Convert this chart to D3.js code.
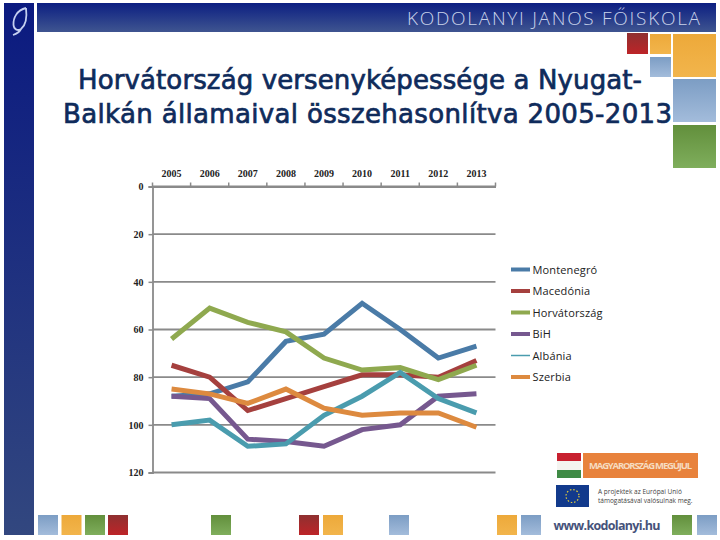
<!DOCTYPE html>
<html>
<head>
<meta charset="utf-8">
<script src="https://cdn.jsdelivr.net/npm/d3@7"></script>
<style>
  html, body { margin: 0; padding: 0; background: #fff; }
  svg { display: block; }
</style>
</head>
<body>
<div id="chart"></div>
<script>
const years = ["2005", "2006", "2007", "2008", "2009", "2010", "2011", "2012", "2013"];
const yTicks = [0, 20, 40, 60, 80, 100, 120];
const seriesNames = ["Montenegró", "Macedónia", "Horvátország", "BiH", "Albánia", "Szerbia"];
const seriesColors = ["#4a7ba7", "#a5403e", "#8fa94f", "#76588f", "#4a9cae", "#dd8a3f"];
const montenegro = [88, 87, 82, 65, 62, 49, 60, 72, 67];
const macedonia = [75, 80, 94, 89, 84, 79, 79, 80, 73];
const horvatorszag = [64, 51, 57, 61, 72, 77, 76, 81, 75];
const bih = [88, 89, 106, 107, 109, 102, 100, 88, 87];
const albania = [100, 98, 109, 108, 96, 88, 78, 89, 95];
const szerbia = [85, 87, 91, 85, 93, 96, 95, 95, 101];
const seriesValues = [montenegro, macedonia, horvatorszag, bih, albania, szerbia];
const titleLines = ["Horvátország versenyképessége a Nyugat-", "Balkán államaival összehasonlítva 2005-2013"];

const svg = d3.select("#chart").append("svg").attr("width", 720).attr("height", 540);
const defs = svg.append("defs");

function gradient(id, top, bottom) {
  const g = defs.append("linearGradient").attr("id", id).attr("x1", 0).attr("y1", 0).attr("x2", 0).attr("y2", 1);
  g.append("stop").attr("offset", "0%").attr("stop-color", top);
  g.append("stop").attr("offset", "100%").attr("stop-color", bottom);
}
gradient("gBlue", "#7c9dc4", "#a3bcdb");
gradient("gOrange", "#eda93a", "#f2b54c");
gradient("gGreen", "#628f3c", "#7fae5c");
gradient("gRed", "#8f3030", "#bd2428");
gradient("gHeader", "#0c1f82", "#3f5590");
gradient("gSide", "#0b1a80", "#32477f");

// template decoration
function box(x, y, w, h, fill) {
  svg.append("rect").attr("x", x).attr("y", y).attr("width", w).attr("height", h).attr("fill", fill);
}
box(4, 3, 30, 532, "url(#gSide)");
box(37, 3, 679, 29, "url(#gHeader)");
svg.append("path")
  .attr("d", "M26 8 C17 10 13 18 13.500 25 C14 30 18 31 21 29 C26 25 27 16 26 8 M21 29 C19 33 16 34 13 35")
  .attr("fill", "none").attr("stroke", "#c4cff0").attr("stroke-width", 1.8);
svg.append("text").attr("x", 407).attr("y", 25)
  .attr("font-family", "'Open Sans', sans-serif").attr("font-size", 19).attr("font-weight", 300)
  .attr("fill", "#c9d3ea").attr("textLength", 293).attr("lengthAdjust", "spacing")
  .text("KODOLANYI JANOS FŐISKOLA");

[[627, 33, 21, 21, "gRed"], [650, 34, 21, 20, "gOrange"], [650, 57, 21, 20, "gBlue"],
 [673, 34, 43, 43, "gOrange"], [673, 79, 43, 43, "gBlue"], [673, 125, 43, 43, "gGreen"],
 [38, 515, 20, 20, "gBlue"], [61.500, 515, 20, 20, "gOrange"], [85, 515, 20, 20, "gGreen"],
 [108, 515, 20, 20, "gRed"], [211, 515, 20, 20, "gGreen"], [299, 515, 20, 20, "gRed"],
 [323, 515, 20, 20, "gOrange"], [389, 515, 20, 20, "gBlue"], [497, 515, 20, 20, "gOrange"],
 [521, 515, 20, 20, "gBlue"], [672, 515, 20, 20, "gGreen"], [697, 515, 20, 20, "gBlue"]]
  .forEach(d => box(d[0], d[1], d[2], d[3], "url(#" + d[4] + ")"));

// title
svg.append("g").selectAll("text").data(titleLines).join("text")
  .attr("x", (d, i) => i === 0 ? 78 : 63).attr("y", (d, i) => 89 + i * 34)
  .attr("textLength", (d, i) => i === 0 ? 564 : 609).attr("lengthAdjust", "spacing")
  .attr("font-family", "'DejaVu Sans', sans-serif").attr("font-size", 26)
  .attr("fill", "#0f2b5b").attr("stroke", "#0f2b5b").attr("stroke-width", 0.7)
  .text(d => d);

// chart
const x = d3.scaleBand().domain(years).range([152.500, 495.500]);
const y = d3.scaleLinear().domain([0, 120]).range([186.500, 472.500]);

const gridGroup = svg.append("g");
gridGroup.selectAll("line").data(yTicks).join("line")
  .attr("x1", 152.500).attr("x2", 495.500)
  .attr("y1", d => y(d)).attr("y2", d => y(d))
  .attr("stroke", "#8a8a8a").attr("stroke-width", 1.8);

const axisX = svg.append("g").attr("transform", "translate(0,186.500)")
  .call(d3.axisTop(x).tickSize(0).tickPadding(10));
axisX.select(".domain").attr("stroke", "#8a8a8a").attr("stroke-width", 1.8);
axisX.selectAll("text").attr("font-family", "'Liberation Serif', serif").attr("font-size", 10)
  .attr("font-weight", "bold").attr("fill", "#222");
svg.append("g").selectAll("line").data(years.concat("end")).join("line")
  .attr("x1", d => d === "end" ? 495.500 : x(d)).attr("x2", d => d === "end" ? 495.500 : x(d))
  .attr("y1", 186.500).attr("y2", 182.500)
  .attr("stroke", "#8a8a8a").attr("stroke-width", 1.500);

const axisY = svg.append("g").attr("transform", "translate(152.500,0)")
  .call(d3.axisLeft(y).tickValues(yTicks).tickSize(4).tickPadding(5));
axisY.select(".domain").attr("stroke", "#8a8a8a").attr("stroke-width", 1.8);
axisY.selectAll("line").attr("stroke", "#8a8a8a").attr("stroke-width", 1.500);
axisY.selectAll("text").attr("font-family", "'Liberation Serif', serif").attr("font-size", 10)
  .attr("font-weight", "bold").attr("fill", "#222");

const line = d3.line()
  .x((d, i) => x(years[i]) + x.bandwidth() / 2)
  .y(d => y(d));

svg.append("g").selectAll("path").data(seriesValues).join("path")
  .attr("d", line)
  .attr("fill", "none")
  .attr("stroke", (d, i) => seriesColors[i])
  .attr("stroke-width", 5)
  .attr("stroke-linejoin", "miter");

// legend
const legendY = d3.scalePoint().domain(seriesNames).range([269.500, 377]);
const legend = svg.append("g").selectAll("g").data(seriesNames).join("g")
  .attr("transform", d => "translate(0," + legendY(d) + ")");
legend.append("line")
  .attr("x1", 511).attr("x2", 530).attr("y1", 0).attr("y2", 0)
  .attr("stroke", (d, i) => seriesColors[i])
  .attr("stroke-width", d => d === "Albánia" ? 1.500 : 4);
legend.append("text").attr("x", 532.500).attr("y", 4)
  .attr("font-family", "'Open Sans', sans-serif").attr("font-size", 11)
  .attr("letter-spacing", 0.15).attr("fill", "#222")
  .text(d => d);

// logos
box(557, 453, 24, 8, "#c8202f");
box(557, 461, 24, 9, "#f4f4f0");
box(557, 470, 24, 8, "#3f8a45");
box(583, 453, 115, 25, "#e8823c");
svg.append("text").attr("x", 589).attr("y", 469)
  .attr("font-family", "'Open Sans', sans-serif").attr("font-size", 9.500).attr("font-weight", 700)
  .attr("fill", "#f6dcc0").attr("textLength", 103).text("MAGYARORSZÁG MEGÚJUL");
box(556, 485, 33, 22, "#123a8c");
svg.append("circle").attr("cx", 572.500).attr("cy", 496).attr("r", 6.500)
  .attr("fill", "none").attr("stroke", "#e8cf3a").attr("stroke-width", 1.200).attr("stroke-dasharray", "1.500 1.900");
svg.append("g").selectAll("text")
  .data(["A projektek az Európai Unió", "támogatásával valósulnak meg."]).join("text")
  .attr("x", 598).attr("y", (d, i) => 494 + i * 8.500)
  .attr("font-family", "'Open Sans', sans-serif").attr("font-size", 6.500).attr("fill", "#444")
  .text(d => d);
svg.append("text").attr("x", 553.500).attr("y", 530)
  .attr("font-family", "'Open Sans', sans-serif").attr("font-size", 12.500).attr("font-weight", 700)
  .attr("fill", "#46527a").attr("textLength", 107).text("www.kodolanyi.hu");
</script>
</body>
</html>
